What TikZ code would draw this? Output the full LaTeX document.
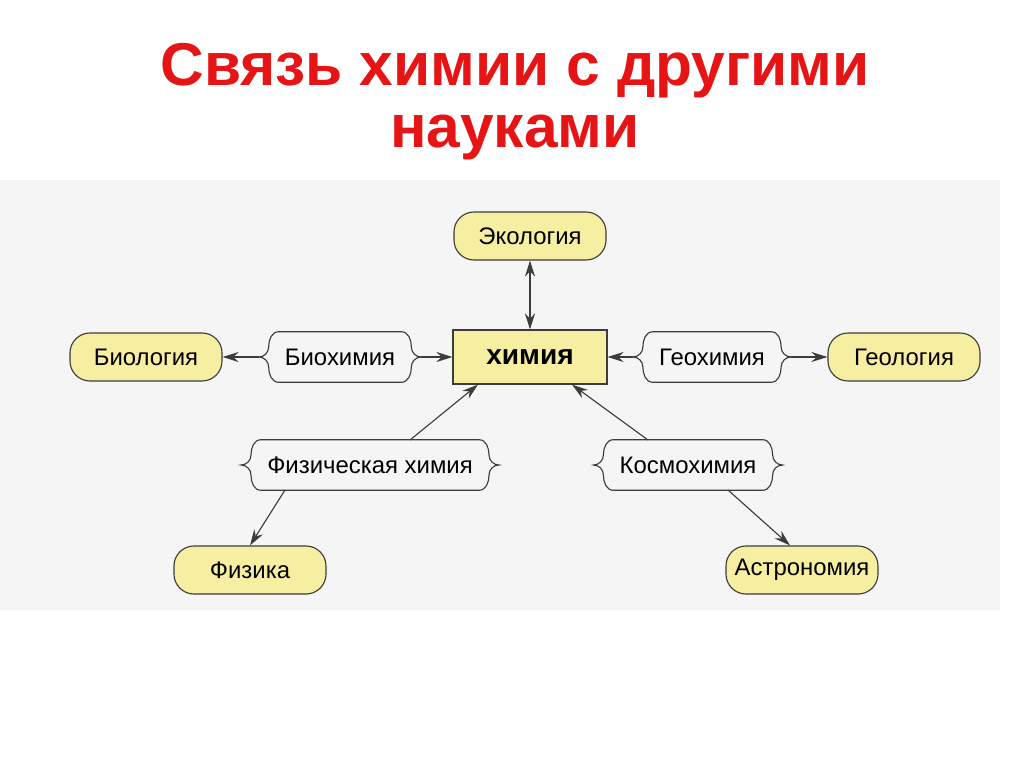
\documentclass[tikz,border=0pt]{standalone}
\usepackage{fontspec}
\setmainfont{Liberation Sans}
\usetikzlibrary{arrows.meta}
\definecolor{boxyellow}{RGB}{246,238,160}
\definecolor{titlered}{RGB}{230,20,20}
\definecolor{linegray}{RGB}{60,60,60}
\newcommand{\bracebox}[1]{%
  \draw[linegray,thick] ([xshift=5mm]#1.north west) -- ([xshift=-5mm]#1.north east)
    to[out=0,in=90] ([xshift=-2.5mm,yshift=2.5mm]#1.east)
    to[out=-90,in=180] (#1.east)
    to[out=180,in=90] ([xshift=-2.5mm,yshift=-2.5mm]#1.east)
    to[out=-90,in=0] ([xshift=-5mm]#1.south east)
    -- ([xshift=5mm]#1.south west)
    to[out=180,in=-90] ([xshift=2.5mm,yshift=-2.5mm]#1.west)
    to[out=90,in=0] (#1.west)
    to[out=0,in=-90] ([xshift=2.5mm,yshift=2.5mm]#1.west)
    to[out=90,in=180] cycle;}
\begin{document}
\begin{tikzpicture}[x=0.025cm,y=-0.025cm,
    science/.style={draw=linegray,thick,fill=boxyellow,rounded corners=5mm,
      minimum width=3.8cm,minimum height=1.2cm,font=\fontsize{17}{19}\selectfont},
    core/.style={draw=linegray,thick,fill=boxyellow,minimum width=3.85cm,
      minimum height=1.35cm,font=\fontsize{20}{22}\selectfont\bfseries},
    link/.style={minimum height=1.25cm,inner xsep=6.5mm,font=\fontsize{17}{19}\selectfont},
    arr/.style={linegray,thick,-{Stealth[length=4mm,width=2.5mm]}}]
  \useasboundingbox (0,0) rectangle (1024,767);
  \fill[white] (0,0) rectangle (1024,767);
  \fill[black!4] (0,180) rectangle (1000,610);
  % title
  \node[text=titlered,font=\fontsize{43}{44}\selectfont\bfseries,align=center]
    (title) at (515,102) {Связь химии с другими\\науками};
  % nodes
  \node[core] (chem) at (530,357) {химия};
  \node[science] (eco) at (530,236) {Экология};
  \node[science] (bio) at (146,357) {Биология};
  \node[science] (geo) at (904,357) {Геология};
  \node[science] (phys) at (250,570) {Физика};
  \node[science] (astro) at (802,570) {Астрономия};
  \node[link] (biochem) at (340,357) {Биохимия};
  \node[link] (geochem) at (712,357) {Геохимия};
  \node[link] (physchem) at (370,465) {Физическая химия};
  \node[link] (cosmo) at (688,465) {Космохимия};
  \bracebox{biochem}
  \bracebox{geochem}
  \bracebox{physchem}
  \bracebox{cosmo}
  % connectors
  \draw[arr,{Stealth[length=4mm,width=2.5mm]}-{Stealth[length=4mm,width=2.5mm]}] (eco) -- (chem);
  \draw[arr] (biochem) -- (bio);
  \draw[arr] (biochem) -- (chem);
  \draw[arr] (geochem) -- (chem);
  \draw[arr] (geochem) -- (geo);
  \coordinate (pc1) at (410,440);
  \coordinate (pc2) at (285,490);
  \coordinate (kc1) at (648,440);
  \coordinate (kc2) at (728,490);
  \draw[arr] (pc1) -- (chem.south west -| 478,0);
  \draw[arr] (pc2) -- (phys.north east -| 250,0);
  \draw[arr] (kc1) -- (chem.south east -| 572,0);
  \draw[arr] (kc2) -- (astro.north -| 790,0);
\end{tikzpicture}
\end{document}
